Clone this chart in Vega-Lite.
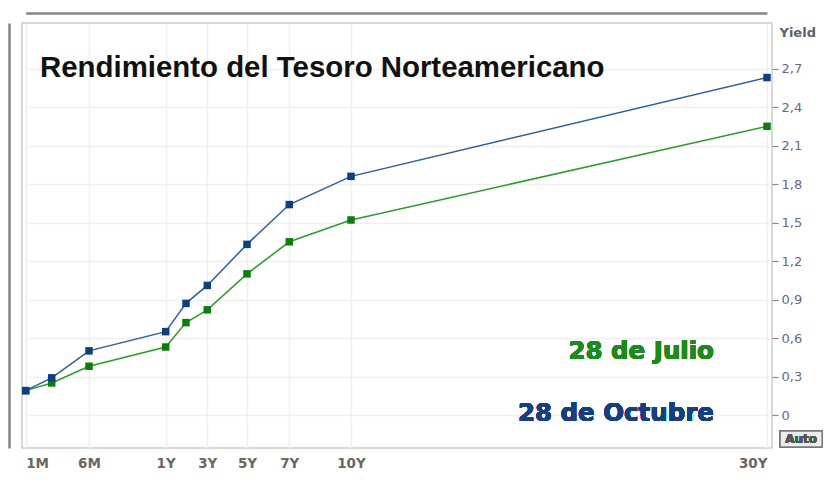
{
  "$schema": "https://vega.github.io/schema/vega-lite/v6.json",
  "width": 750,
  "height": 425,
  "autosize": "none",
  "padding": {"left": 22, "top": 23, "right": 55, "bottom": 50},
  "background": "white",
  "config": {"view": {"stroke": "#cccccc", "strokeWidth": 1.5}, "font": "DejaVu Sans"},
  "title": {
    "text": "Rendimiento del Tesoro Norteamericano",
    "anchor": "start",
    "frame": "group",
    "dx": 18,
    "offset": -93,
    "baseline": "alphabetic",
    "font": "Liberation Sans",
    "fontSize": 29.4,
    "fontWeight": "bold",
    "color": "#111111"
  },
  "data": {
    "values": [
      {"fecha": "28 de Julio", "plazo": "1M", "years": 0.0833, "yield": 0.19},
      {"fecha": "28 de Julio", "plazo": "3M", "years": 0.25, "yield": 0.25},
      {"fecha": "28 de Julio", "plazo": "6M", "years": 0.5, "yield": 0.38},
      {"fecha": "28 de Julio", "plazo": "1Y", "years": 1, "yield": 0.53},
      {"fecha": "28 de Julio", "plazo": "2Y", "years": 2, "yield": 0.72},
      {"fecha": "28 de Julio", "plazo": "3Y", "years": 3, "yield": 0.82},
      {"fecha": "28 de Julio", "plazo": "5Y", "years": 5, "yield": 1.10},
      {"fecha": "28 de Julio", "plazo": "7Y", "years": 7, "yield": 1.35},
      {"fecha": "28 de Julio", "plazo": "10Y", "years": 10, "yield": 1.52},
      {"fecha": "28 de Julio", "plazo": "30Y", "years": 30, "yield": 2.25},
      {"fecha": "28 de Octubre", "plazo": "1M", "years": 0.0833, "yield": 0.19},
      {"fecha": "28 de Octubre", "plazo": "3M", "years": 0.25, "yield": 0.29},
      {"fecha": "28 de Octubre", "plazo": "6M", "years": 0.5, "yield": 0.50},
      {"fecha": "28 de Octubre", "plazo": "1Y", "years": 1, "yield": 0.65},
      {"fecha": "28 de Octubre", "plazo": "2Y", "years": 2, "yield": 0.87},
      {"fecha": "28 de Octubre", "plazo": "3Y", "years": 3, "yield": 1.01},
      {"fecha": "28 de Octubre", "plazo": "5Y", "years": 5, "yield": 1.33},
      {"fecha": "28 de Octubre", "plazo": "7Y", "years": 7, "yield": 1.64},
      {"fecha": "28 de Octubre", "plazo": "10Y", "years": 10, "yield": 1.86},
      {"fecha": "28 de Octubre", "plazo": "30Y", "years": 30, "yield": 2.63}
    ]
  },
  "layer": [
    {
      "mark": {"type": "line", "interpolate": "linear", "strokeWidth": 1.5},
      "encoding": {
        "x": {
          "field": "years",
          "type": "quantitative",
          "scale": {
            "domain": [0.0833, 0.25, 0.5, 1, 2, 3, 5, 7, 10, 30],
            "range": [3.7, 29.7, 67, 143.7, 164, 185.3, 225, 267.3, 329, 745],
            "nice": false,
            "zero": false
          },
          "axis": {
            "orient": "bottom",
            "title": null,
            "values": [0.0833, 0.5, 1, 3, 5, 7, 10, 30],
            "labelExpr": "datum.value < 0.1 ? '1M' : datum.value < 0.6 ? '6M' : format(datum.value, 'd') + 'Y'",
            "ticks": false,
            "domain": false,
            "grid": true,
            "gridColor": "#efefef",
            "gridWidth": 1.5,
            "labelFont": "DejaVu Sans",
            "labelFontWeight": "bold",
            "labelFontSize": 13.5,
            "labelColor": "#6b6660",
            "labelPadding": 8,
            "labelOverlap": false,
            "labelFlush": false,
            "labelBound": false,
            "labelAlign": {"condition": [{"test": "datum.value < 0.1", "value": "left"}, {"test": "datum.value > 20", "value": "right"}], "value": "center"}
          }
        },
        "y": {
          "field": "yield",
          "type": "quantitative",
          "scale": {"domain": [-0.257, 3.055], "nice": false, "zero": false},
          "axis": {
            "orient": "right",
            "values": [0, 0.3, 0.6, 0.9, 1.2, 1.5, 1.8, 2.1, 2.4, 2.7],
            "labelExpr": "datum.value == 0 ? '0' : replace(format(datum.value, '.1f'), '.', ',')",
            "domain": false,
            "ticks": true,
            "tickSize": 6,
            "tickColor": "#8a8a8a",
            "tickWidth": 1.2,
            "grid": true,
            "gridColor": "#efefef",
            "gridWidth": 1.5,
            "labelFont": "DejaVu Sans",
            "labelFontSize": 13,
            "labelColor": "#66688a",
            "labelPadding": 3,
            "title": "Yield",
            "titleAngle": 0,
            "titleX": 7,
            "titleY": 9,
            "titleAlign": "left",
            "titleBaseline": "middle",
            "titleFont": "DejaVu Sans",
            "titleFontSize": 13,
            "titleFontWeight": "bold",
            "titleColor": "#5a5f70"
          }
        },
        "color": {
          "field": "fecha",
          "type": "nominal",
          "scale": {"domain": ["28 de Julio", "28 de Octubre"], "range": ["#2f9a2f", "#2d5e9e"]},
          "legend": null
        }
      }
    },
    {
      "mark": {"type": "square", "size": 56, "filled": true, "opacity": 1},
      "encoding": {
        "x": {
          "field": "years",
          "type": "quantitative",
          "axis": {"orient": "top", "offset": 10, "title": null, "labels": false, "ticks": false, "grid": false, "domain": true, "domainColor": "#858585", "domainWidth": 2.5}
        },
        "y": {
          "field": "yield",
          "type": "quantitative",
          "axis": {"orient": "left", "offset": 13, "title": null, "labels": false, "ticks": false, "grid": false, "domain": true, "domainColor": "#858585", "domainWidth": 2.5}
        },
        "color": {
          "field": "fecha",
          "type": "nominal",
          "scale": {"domain": ["28 de Julio", "28 de Octubre"], "range": ["#0b7d0b", "#0e3f82"]},
          "legend": null
        }
      }
    },
    {
      "mark": {"type": "text", "align": "right", "baseline": "middle", "font": "DejaVu Sans", "fontWeight": "bold", "fontSize": 24.5, "fill": "#1c8a1c", "strokeWidth": 0},
      "encoding": {
        "x": {"datum": 27.45, "type": "quantitative", "axis": null},
        "y": {"datum": 0.491, "type": "quantitative", "axis": null},
        "text": {"value": "28 de Julio"}
      }
    },
    {
      "mark": {"type": "text", "align": "right", "baseline": "middle", "font": "DejaVu Sans", "fontWeight": "bold", "fontSize": 24.5, "fill": "#163f80", "strokeWidth": 0},
      "encoding": {
        "x": {"datum": 27.45, "type": "quantitative", "axis": null},
        "y": {"datum": 0.008, "type": "quantitative", "axis": null},
        "text": {"value": "28 de Octubre"}
      }
    },
    {
      "mark": {"type": "rect", "fill": "#ececec", "stroke": "#7a7a7a", "strokeWidth": 1.5, "clip": false},
      "encoding": {
        "x": {"datum": 30.63, "type": "quantitative", "axis": null},
        "x2": {"datum": 32.65},
        "y": {"datum": -0.125, "type": "quantitative", "axis": null},
        "y2": {"datum": -0.249}
      }
    },
    {
      "mark": {"type": "text", "align": "center", "baseline": "middle", "font": "DejaVu Sans", "fontWeight": "bold", "fontSize": 12, "fill": "#555555", "clip": false},
      "encoding": {
        "x": {"datum": 31.64, "type": "quantitative", "axis": null},
        "y": {"datum": -0.187, "type": "quantitative", "axis": null},
        "text": {"value": "Auto"}
      }
    }
  ],
  "resolve": {"axis": {"x": "independent", "y": "independent"}, "scale": {"color": "independent"}}
}
